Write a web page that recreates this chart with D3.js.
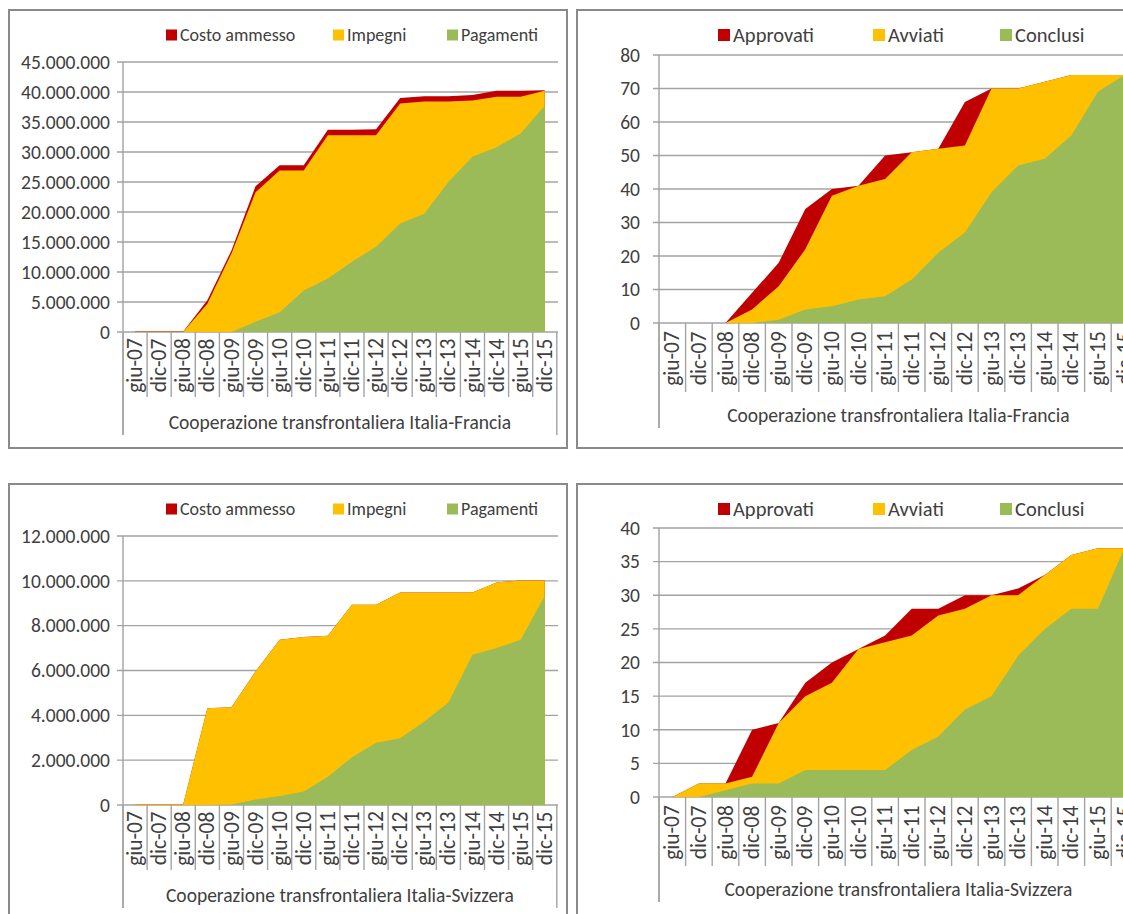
<!DOCTYPE html>
<html>
<head>
<meta charset="utf-8">
<script src="https://cdn.jsdelivr.net/npm/d3@7"></script>
<style>
  html, body { margin: 0; padding: 0; background: #fff; }
  svg { display: block; }
</style>
</head>
<body>
<svg id="chart" width="1123" height="914"></svg>
<script>
// ---------------- DATA ----------------
const months = ["giu-07","dic-07","giu-08","dic-08","giu-09","dic-09","giu-10","dic-10","giu-11",
                "dic-11","giu-12","dic-12","giu-13","dic-13","giu-14","dic-14","giu-15","dic-15"];

// Italia-Francia, finanziario (euro)
const frCosto     = [80000, 80000, 80000, 5300000, 13600000, 24300000, 27800000, 27800000, 33700000,
                     33700000, 33800000, 39000000, 39300000, 39300000, 39500000, 40200000, 40200000, 40300000];
const frImpegni   = [30000, 30000, 30000, 4700000, 13100000, 23300000, 26900000, 26900000, 32800000,
                     32800000, 32800000, 38100000, 38400000, 38400000, 38600000, 39200000, 39200000, 40200000];
const frPagamenti = [0, 0, 0, 0, 0, 1700000, 3300000, 6900000, 8900000,
                     11700000, 14200000, 18100000, 19700000, 25000000, 29200000, 30800000, 33100000, 37700000];

// Italia-Francia, progetti
const frApprovati = [0, 0, 0, 9, 18, 34, 40, 41, 50, 51, 52, 66, 70, 70, 72, 74, 74, 74];
const frAvviati   = [0, 0, 0, 4, 11, 22, 38, 41, 43, 51, 52, 53, 70, 70, 72, 74, 74, 74];
const frConclusi  = [0, 0, 0, 0, 1, 4, 5, 7, 8, 13, 21, 27, 39, 47, 49, 56, 69, 74];

// Italia-Svizzera, finanziario (euro)
const chCosto     = [30000, 30000, 30000, 4320000, 4360000, 5950000, 7370000, 7490000, 7550000,
                     8930000, 8930000, 9480000, 9480000, 9480000, 9480000, 9930000, 10020000, 10020000];
const chImpegni   = [30000, 30000, 30000, 4320000, 4360000, 5950000, 7370000, 7490000, 7550000,
                     8930000, 8930000, 9480000, 9480000, 9480000, 9480000, 9930000, 10020000, 10020000];
const chPagamenti = [0, 0, 0, 0, 20000, 250000, 400000, 600000, 1260000,
                     2130000, 2780000, 2980000, 3720000, 4570000, 6700000, 7000000, 7370000, 9330000];

// Italia-Svizzera, progetti
const chApprovati = [0, 2, 2, 10, 11, 17, 20, 22, 24, 28, 28, 30, 30, 31, 33, 36, 37, 37];
const chAvviati   = [0, 2, 2, 3, 11, 15, 17, 22, 23, 24, 27, 28, 30, 30, 33, 36, 37, 37];
const chConclusi  = [0, 0, 1, 2, 2, 4, 4, 4, 4, 7, 9, 13, 15, 21, 25, 28, 28, 37];

// Tick values
const ticksFr1 = [0, 5000000, 10000000, 15000000, 20000000, 25000000, 30000000, 35000000, 40000000, 45000000];
const ticksFr2 = [0, 10, 20, 30, 40, 50, 60, 70, 80];
const ticksCh1 = [0, 2000000, 4000000, 6000000, 8000000, 10000000, 12000000];
const ticksCh2 = [0, 5, 10, 15, 20, 25, 30, 35, 40];

const legendFin  = ["Costo ammesso", "Impegni", "Pagamenti"];
const legendProj = ["Approvati", "Avviati", "Conclusi"];
const titleFr = "Cooperazione transfrontaliera Italia-Francia";
const titleCh = "Cooperazione transfrontaliera Italia-Svizzera";

// ---------------- STYLE ----------------
const COLORS = ["#C00000", "#FFC000", "#9BBB59"];
const FONT = "Carlito, Calibri, Lato, sans-serif";
const TEXT = "#404040";
const GRID = "#a3a3a3";

const itFmt = d3.formatLocale({decimal: ",", thousands: ".", grouping: [3], currency: ["€", ""]}).format(",");

const svg = d3.select("#chart");

const panels = [
  { box: [9, 10, 558, 438], left: 123, band: 24.1, top: 62, bottom: 332, gridRight: 558,
    ticks: ticksFr1, series: [frCosto, frImpegni, frPagamenti], legend: legendFin, title: titleFr,
    legX: [166, 333, 447], legY: 35, legFont: 18, sq: 11, yFont: 19.5, yGap: 13, xFont: 21.5, titleFont: 19.5,
    sepLen: 65, outerLen: 103, titleDy: 90 },
  { box: [577, 10, 600, 438], left: 659, band: 26.6, top: 55, bottom: 323, gridRight: 1140,
    ticks: ticksFr2, series: [frApprovati, frAvviati, frConclusi], legend: legendProj, title: titleFr,
    legX: [718, 873, 1000], legY: 35, legFont: 20.5, sq: 12, yFont: 19.5, yGap: 19, xFont: 21.5, titleFont: 19.5,
    sepLen: 69, outerLen: 105, titleDy: 92 },
  { box: [9, 484, 558, 460], left: 123, band: 24.1, top: 536, bottom: 805, gridRight: 558,
    ticks: ticksCh1, series: [chCosto, chImpegni, chPagamenti], legend: legendFin, title: titleCh,
    legX: [166, 333, 447], legY: 509, legFont: 18, sq: 11, yFont: 19.5, yGap: 13, xFont: 21.5, titleFont: 19.5,
    sepLen: 65, outerLen: 103, titleDy: 90 },
  { box: [577, 484, 600, 460], left: 659, band: 26.6, top: 528, bottom: 797, gridRight: 1140,
    ticks: ticksCh2, series: [chApprovati, chAvviati, chConclusi], legend: legendProj, title: titleCh,
    legX: [718, 873, 1000], legY: 509, legFont: 20.5, sq: 12, yFont: 19.5, yGap: 19, xFont: 21.5, titleFont: 19.5,
    sepLen: 69, outerLen: 105, titleDy: 92 }
];

panels.forEach(p => {
  const g = svg.append("g");
  // panel border
  g.append("rect")
    .attr("x", p.box[0]).attr("y", p.box[1]).attr("width", p.box[2]).attr("height", p.box[3])
    .attr("fill", "#fff").attr("stroke", "#8a8a8a").attr("stroke-width", 2);

  const right = p.left + p.band * months.length;
  const x = d3.scaleBand().domain(months).range([p.left, right]).paddingInner(0).paddingOuter(0);
  const yMax = p.ticks[p.ticks.length - 1];
  const y = d3.scaleLinear().domain([0, yMax]).range([p.bottom, p.top]);
  const cx = m => x(m) + x.bandwidth() / 2;

  // gridlines
  g.append("g").selectAll("line").data(p.ticks).join("line")
    .attr("x1", p.left - 6).attr("x2", p.gridRight)
    .attr("y1", d => y(d)).attr("y2", d => y(d))
    .attr("stroke", GRID).attr("stroke-width", 1.4);

  // areas (overlapping, first series at back)
  const area = d3.area()
    .x((d, i) => cx(months[i]))
    .y0(p.bottom)
    .y1(d => y(d));
  p.series.forEach((s, k) => {
    g.append("path").datum(s).attr("d", area).attr("fill", COLORS[k]);
  });

  // y axis line
  g.append("line").attr("x1", p.left).attr("x2", p.left)
    .attr("y1", p.top).attr("y2", p.bottom + p.outerLen)
    .attr("stroke", GRID).attr("stroke-width", 1.4);

  // y labels
  g.append("g").selectAll("text").data(p.ticks).join("text")
    .attr("x", p.left - p.yGap).attr("y", d => y(d))
    .attr("dy", "0.35em").attr("text-anchor", "end")
    .attr("font-family", FONT).attr("font-size", p.yFont).attr("fill", TEXT)
    .text(d => itFmt(d));

  // category separators
  const bounds = d3.range(months.length + 1).map(i => p.left + i * p.band);
  g.append("g").selectAll("line").data(bounds).join("line")
    .attr("x1", d => d).attr("x2", d => d)
    .attr("y1", p.bottom)
    .attr("y2", (d, i) => (i === 0 || i === months.length) ? p.bottom + p.outerLen : p.bottom + p.sepLen)
    .attr("stroke", GRID).attr("stroke-width", 1.4);

  // x labels (rotated)
  const labY = p.bottom + p.sepLen / 2 + 1;
  g.append("g").selectAll("text").data(months).join("text")
    .attr("transform", m => `translate(${cx(m) + p.xFont * 0.33},${labY}) rotate(-90)`)
    .attr("text-anchor", "middle")
    .attr("font-family", FONT).attr("font-size", p.xFont).attr("fill", TEXT)
    .text(m => m);

  // axis title
  g.append("text")
    .attr("x", (p.left + right) / 2).attr("y", p.bottom + p.titleDy)
    .attr("text-anchor", "middle").attr("dy", "0.35em")
    .attr("font-family", FONT).attr("font-size", p.titleFont).attr("fill", TEXT)
    .text(p.title);

  // legend
  p.legend.forEach((name, k) => {
    g.append("rect").attr("x", p.legX[k]).attr("y", p.legY - p.sq / 2)
      .attr("width", p.sq).attr("height", p.sq).attr("fill", COLORS[k]);
    g.append("text").attr("x", p.legX[k] + p.sq + 3).attr("y", p.legY).attr("dy", "0.35em")
      .attr("font-family", FONT).attr("font-size", p.legFont).attr("fill", TEXT)
      .text(name);
  });
});
</script>
</body>
</html>
